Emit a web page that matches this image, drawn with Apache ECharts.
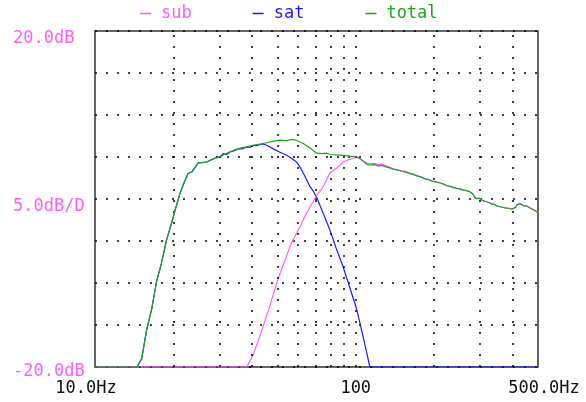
<!DOCTYPE html>
<html>
<head>
<meta charset="utf-8">
<script src="https://cdn.jsdelivr.net/npm/echarts@6/dist/echarts.min.js"></script>
<style>
html,body{margin:0;padding:0;background:#fff;}
#chart{width:586px;height:402px;}
</style>
</head>
<body>
<div id="chart"></div>
<script>
// ---- data (frequency in Hz, level in dB) ----
const subFreq = [10, 38.2, 40.5, 42.5, 44.2, 46.9, 49.9, 52.8, 55.9, 58.5, 61.1, 64, 66.7, 70.5, 74.8, 79.6, 84.7, 89.6, 93.5, 97.8, 102, 106, 110, 113, 118, 122, 126, 131, 135, 139, 144, 150, 155, 161, 167, 172, 178, 185, 192, 198, 205, 211, 217, 224, 230, 237, 244, 251, 258, 266, 274, 280, 284, 288, 292, 297, 302, 308, 314, 320, 326, 332, 338, 344, 350, 356, 362, 368, 374, 380, 386, 392, 398, 404, 410, 416, 421, 427, 433, 440, 447, 454, 461, 468, 475, 482, 489, 495, 500];
const subDb   = [-20, -20, -18.5, -16.7, -15.1, -12.7, -9.9, -7.8, -5.7, -4.4, -3.3, -2.0, -0.95, 0.3, 1.4, 3.1, 3.7, 4.4, 4.65, 4.85, 4.95, 4.6, 4.3, 4.2, 4.25, 4.1, 4.15, 3.95, 3.8, 3.6, 3.5, 3.35, 3.3, 3.05, 2.95, 2.75, 2.65, 2.4, 2.3, 2.1, 2.0, 1.9, 1.8, 1.6, 1.55, 1.35, 1.3, 1.2, 1.05, 1.0, 0.85, 0.65, 0.4, 0.05, -0.05, 0.1, -0.1, -0.2, -0.3, -0.35, -0.45, -0.6, -0.6, -0.75, -0.85, -0.9, -0.95, -1.0, -1.05, -1.15, -1.1, -1.25, -1.2, -1.35, -1.0, -0.7, -0.75, -0.55, -0.7, -0.8, -0.7, -0.85, -0.9, -1.1, -1.15, -1.3, -1.35, -1.5, -1.6];

const satFreq = [10, 14.5, 15.1, 15.8, 16.5, 17.2, 18.0, 18.8, 19.7, 20.3, 21.2, 22.0, 22.8, 23.5, 24.9, 26.8, 28.8, 29.3, 30.2, 31, 32, 32.9, 34.2, 35.5, 36.8, 38.2, 39.4, 40.5, 41.7, 42.9, 44.2, 45.5, 48.1, 51, 54.3, 57, 59.3, 61, 62.9, 64.8, 66.7, 68.8, 70.8, 75, 79.6, 84, 89.3, 95, 100.8, 106, 110, 113.3, 500];
const satDb   = [-20, -20, -19.0, -15.5, -13.1, -9.9, -7.6, -4.9, -2.8, -1.3, 0.7, 2.0, 3.1, 3.2, 4.3, 4.4, 4.85, 5.05, 5.0, 5.4, 5.3, 5.6, 5.75, 6.0, 5.95, 6.2, 6.15, 6.4, 6.35, 6.5, 6.55, 6.4, 6.0, 5.6, 5.2, 4.8, 4.4, 3.85, 3.1, 2.3, 1.5, 0.9, 0.2, -1.7, -3.7, -5.8, -8.0, -10.6, -13.1, -16.0, -18.2, -20, -20];

const totalFreq = [10, 14.5, 15.1, 15.8, 16.5, 17.2, 18.0, 18.8, 19.7, 20.3, 21.2, 22.0, 22.8, 23.5, 24.9, 26.8, 28.8, 30.5, 32.0, 34.0, 36.0, 38.0, 40.5, 43.0, 45.5, 48.0, 51.2, 54.0, 57.5, 60.0, 62.9, 66.0, 70.8, 74.0, 77.5, 80.0, 85.0, 89.3, 95.0, 101, 104, 107, 110, 113, 118, 122, 126, 131, 135, 139, 144, 150, 155, 161, 167, 172, 178, 185, 192, 198, 205, 211, 217, 224, 230, 237, 244, 251, 258, 266, 274, 280, 284, 288, 292, 297, 302, 308, 314, 320, 326, 332, 338, 344, 350, 356, 362, 368, 374, 380, 386, 392, 398, 404, 410, 416, 421, 427, 433, 440, 447, 454, 461, 468, 475, 482, 489, 495, 500];
const totalDb   = [-20, -20, -19.0, -15.5, -13.1, -9.9, -7.6, -4.9, -2.8, -1.3, 0.7, 2.0, 3.1, 3.2, 4.3, 4.4, 4.85, 5.1, 5.45, 5.8, 6.05, 6.2, 6.4, 6.55, 6.7, 6.85, 7.0, 6.95, 7.1, 6.9, 6.6, 6.2, 5.45, 5.4, 5.45, 5.3, 5.25, 5.2, 5.1, 5.0, 4.8, 4.45, 4.15, 4.05, 4.1, 3.95, 4.0, 3.8, 3.7, 3.55, 3.45, 3.3, 3.2, 3.05, 2.9, 2.75, 2.6, 2.4, 2.25, 2.1, 2.0, 1.9, 1.75, 1.55, 1.5, 1.35, 1.25, 1.2, 1.05, 1.0, 0.85, 0.65, 0.4, 0.05, -0.05, 0.1, -0.1, -0.2, -0.3, -0.35, -0.45, -0.6, -0.6, -0.75, -0.85, -0.9, -0.95, -1.0, -1.05, -1.15, -1.1, -1.25, -1.2, -1.35, -1.0, -0.7, -0.75, -0.55, -0.7, -0.8, -0.7, -0.85, -0.9, -1.1, -1.15, -1.3, -1.35, -1.55, -1.6];

const gridFreqs = [20, 30, 40, 50, 60, 70, 80, 90, 100, 200, 300, 400];
const xTickValues = [10, 100, 500];
const xTickLabels = ['10.0Hz', '100', '500.0Hz'];
const yTickValues = [20, 0, -20];
const yTickLabels = ['20.0dB', '5.0dB/D', '-20.0dB'];
const seriesNames = ['sub', 'sat', 'total'];

// ---- styling ----
const PINK = '#ff5cff', BLUE = '#1c1cff', GREEN = '#1ea51e';
const FONT = 'DejaVu Sans Mono';
const colorOf = { sub: PINK, sat: BLUE, total: GREEN };

function pairs(fs, ds) { return fs.map((f, i) => [f, ds[i]]); }
function xIndex(v) {
  for (let i = 0; i < xTickValues.length; i++) {
    if (Math.abs(Math.log10(v) - Math.log10(xTickValues[i])) < 0.005) return i;
  }
  return -1;
}

const chart = echarts.init(document.getElementById('chart'), null, { renderer: 'canvas' });

const lineCommon = { type: 'line', showSymbol: false, symbol: 'none', animation: false, silent: true, z: 3 };

chart.setOption({
  animation: false,
  backgroundColor: '#fff',
  textStyle: { fontFamily: FONT },
  legend: {
    left: 140, top: 5, padding: 0,
    itemWidth: 11, itemHeight: 1.5, itemGap: 61,
    icon: 'rect',
    selectedMode: false,
    formatter: n => '{p|' + n + '}',
    textStyle: { fontFamily: FONT, fontSize: 17, rich: { p: { fontFamily: FONT, fontSize: 17, padding: [0, 0, 0, 5] } } },
    data: seriesNames.map(n => ({ name: n, itemStyle: { color: colorOf[n] }, textStyle: { color: colorOf[n] } }))
  },
  grid: { left: 95, right: 48, top: 31, bottom: 35, show: true, borderColor: '#333', borderWidth: 1.5, backgroundColor: 'transparent', containLabel: false, outerBoundsMode: 'none' },
  xAxis: {
    type: 'log', logBase: 10, min: 10, max: 500,
    axisLine: { show: false }, axisTick: { show: false },
    splitLine: { show: false },
    axisLabel: {
      customValues: xTickValues,
      margin: 13, color: '#111', fontFamily: FONT, fontSize: 17,
      formatter: v => { const i = xIndex(v); return i < 0 ? '' : '{' + 'abc'[i] + '|' + xTickLabels[i] + '}'; },
      rich: {
        a: { fontFamily: FONT, fontSize: 17, color: '#111', padding: [0, 18, 0, 0] },
        b: { fontFamily: FONT, fontSize: 17, color: '#111' },
        c: { fontFamily: FONT, fontSize: 17, color: '#111', padding: [0, 0, 0, 12] }
      }
    }
  },
  yAxis: {
    type: 'value', min: -20, max: 20, interval: 5,
    axisLine: { show: false }, axisTick: { show: false },
    splitLine: { show: true, lineStyle: { color: '#000', width: 1.5, type: [2, 9] } },
    axisLabel: {
      align: 'left', margin: 82, color: PINK, fontFamily: FONT, fontSize: 17,
      formatter: v => { const i = yTickValues.indexOf(v); if (i < 0) return ''; return (v === -20 ? '{b|' : '{t|') + yTickLabels[i] + '}'; },
      rich: {
        t: { fontFamily: FONT, fontSize: 17, color: PINK, padding: [16, 0, 0, 0] },
        b: { fontFamily: FONT, fontSize: 17, color: PINK, padding: [9, 0, 0, 0] }
      }
    }
  },
  series: [
    Object.assign({}, lineCommon, {
      name: 'sat', data: pairs(satFreq, satDb), z: 3,
      lineStyle: { color: BLUE, width: 1.2 }, itemStyle: { color: BLUE },
      markLine: {
        silent: true, symbol: ['none', 'none'], animation: false,
        label: { show: false },
        lineStyle: { color: '#000', width: 1.5, type: [2, 9] },
        emphasis: { disabled: true },
        data: gridFreqs.map(f => ({ xAxis: f }))
      }
    }),
    Object.assign({}, lineCommon, {
      name: 'sub', data: pairs(subFreq, subDb), z: 4,
      lineStyle: { color: PINK, width: 1.2 }, itemStyle: { color: PINK }
    }),
    Object.assign({}, lineCommon, {
      name: 'total', data: pairs(totalFreq, totalDb), z: 5,
      lineStyle: { color: GREEN, width: 1.2 }, itemStyle: { color: GREEN }
    })
  ]
});
</script>
</body>
</html>
